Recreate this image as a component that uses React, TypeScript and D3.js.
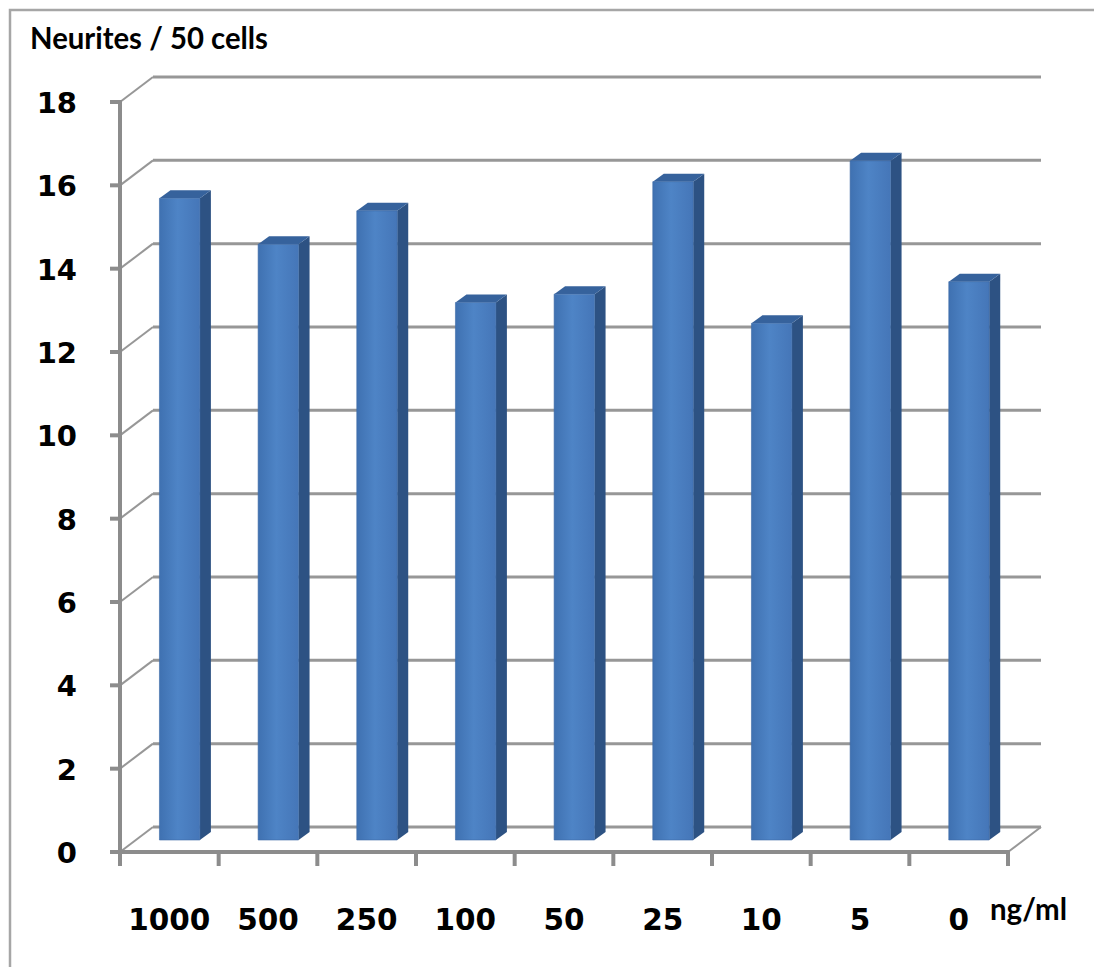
import React from "react";
import * as d3 from "d3";

// Concentrations (ng/ml) and neurite counts per 50 cells
const categories = ["1000", "500", "250", "100", "50", "25", "10", "5", "0"];
const neurites = [15.4, 14.3, 15.1, 12.9, 13.1, 15.8, 12.4, 16.3, 13.4];
const yTicks = [0, 2, 4, 6, 8, 10, 12, 14, 16, 18];

const W = 1094;
const H = 967;

// Front plane of the pseudo-3D plot
const left = 120;
const right = 1008;
const bottom = 852;
const top = 102;
// Depth vector of the box (front -> back wall)
const DX = 33;
const DY = -25;
// Bars sit part way into the box and have their own depth
const barFront = 0.48;
const barDepthDX = 11;
const barDepthDY = -8;
const barFrac = 0.41;

const grid = "#979797";
const axis = "#8c8c8c";

export default function App() {
  const x = d3.scaleBand<string>().domain(categories).range([left, right]).padding(0);
  const y = d3.scaleLinear().domain([0, 18]).range([bottom, top]);
  const bw = x.bandwidth();
  const faceW = bw * barFrac;
  const ox = DX * barFront;
  const oy = DY * barFront;

  const bars = categories.map((c, i) => {
    const x0 = (x(c) as number) + ox + (bw - faceW - barDepthDX) / 2;
    const x1 = x0 + faceW;
    const yb = y(0) + oy;
    const yt = y(neurites[i]) + oy;
    const front = `M${x0},${yt}L${x1},${yt}L${x1},${yb}L${x0},${yb}Z`;
    const side = `M${x1},${yt}L${x1 + barDepthDX},${yt + barDepthDY}L${x1 + barDepthDX},${yb + barDepthDY}L${x1},${yb}Z`;
    const topFace = `M${x0},${yt}L${x0 + barDepthDX},${yt + barDepthDY}L${x1 + barDepthDX},${yt + barDepthDY}L${x1},${yt}Z`;
    return { c, front, side, topFace };
  });

  const fontTicks = "'DejaVu Sans', Verdana, sans-serif";
  const fontTitle = "Lato, 'Open Sans', sans-serif";

  return (
    <svg
      width={W}
      height={H}
      viewBox={`0 0 ${W} ${H}`}
      style={{ position: "absolute", left: 0, top: 0, background: "#fff" }}
    >
      <defs>
        <linearGradient id="barFront" x1="0" x2="1" y1="0" y2="0">
          <stop offset="0" stopColor="#3f71b1" />
          <stop offset="0.45" stopColor="#4e84c6" />
          <stop offset="1" stopColor="#4576b8" />
        </linearGradient>
      </defs>

      {/* chart area border */}
      <rect x={10} y={10} width={W + 20} height={H} fill="none" stroke="#a6a6a6" strokeWidth={2.5} />

      {/* title */}
      <text
        x={30}
        y={49}
        fontFamily={fontTitle}
        fontWeight={700}
        fontSize={30}
        textLength={238}
        lengthAdjust="spacingAndGlyphs"
        fill="#000"
      >
        Neurites / 50 cells
      </text>

      {/* back wall gridlines and side-wall diagonals */}
      {yTicks.map((t) => (
        <g key={`g${t}`}>
          <line
            x1={left + DX}
            x2={right + DX}
            y1={y(t) + DY}
            y2={y(t) + DY}
            stroke={grid}
            strokeWidth={3}
          />
          <line
            x1={left}
            x2={left + DX}
            y1={y(t)}
            y2={y(t) + DY}
            stroke={grid}
            strokeWidth={2}
          />
        </g>
      ))}
      {/* floor right edge */}
      <line x1={right} y1={bottom} x2={right + DX} y2={bottom + DY} stroke={grid} strokeWidth={2} />

      {/* bars */}
      {bars.map((b) => (
        <g key={b.c}>
          <path d={b.side} fill="#2d5283" />
          <path d={b.topFace} fill="#36629c" />
          <path d={b.front} fill="url(#barFront)" stroke="#3d6aa6" strokeWidth={0.6} />
        </g>
      ))}

      {/* value axis */}
      <line x1={left} x2={left} y1={y(18) - 2} y2={bottom + 6} stroke={axis} strokeWidth={4} />
      {yTicks.map((t) => (
        <g key={`t${t}`}>
          <line x1={left - 10} x2={left} y1={y(t)} y2={y(t)} stroke={axis} strokeWidth={4} />
          <text
            x={77}
            y={y(t) + 1}
            textAnchor="end"
            dominantBaseline="central"
            fontFamily={fontTicks}
            fontWeight={700}
            fontSize={29}
            fill="#000"
          >
            {t}
          </text>
        </g>
      ))}

      {/* category axis */}
      <line x1={left} x2={right + 2} y1={bottom} y2={bottom} stroke={axis} strokeWidth={4} />
      {[...categories.map((c) => x(c) as number), right].map((px, i) => (
        <line key={`xt${i}`} x1={px} x2={px} y1={bottom} y2={bottom + 14} stroke={axis} strokeWidth={4} />
      ))}
      {categories.map((c) => (
        <text
          key={`xl${c}`}
          x={(x(c) as number) + bw / 2}
          y={930}
          textAnchor="middle"
          fontFamily={fontTicks}
          fontWeight={700}
          fontSize={29.5}
          fill="#000"
        >
          {c}
        </text>
      ))}
      <text
        x={990}
        y={920}
        fontFamily={fontTitle}
        fontWeight={700}
        fontSize={30}
        textLength={77}
        lengthAdjust="spacingAndGlyphs"
        fill="#000"
      >
        ng/ml
      </text>
    </svg>
  );
}
